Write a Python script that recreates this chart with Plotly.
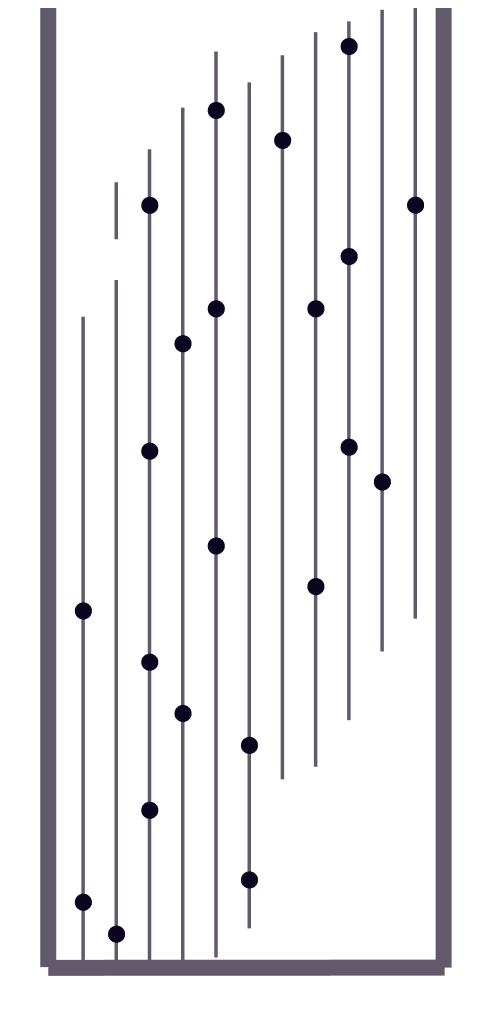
import plotly.graph_objects as go

# columns (categories) and dot values
col_x = [1, 1, 2, 3, 3, 3, 3, 4, 4, 5, 5, 5, 6, 6, 7, 8, 8, 9, 9, 9, 10, 11]
dot_y = [36.9, 6.8, 3.5, 78.8, 53.4, 31.6, 16.3, 64.5, 26.3, 88.6, 68.1, 43.6,
         23.0, 9.1, 85.5, 68.1, 39.4, 95.2, 73.5, 53.8, 50.2, 78.8]

# visible extent of each column's stem (low, high)
stem_col = [1, 2, 2, 3, 4, 5, 6, 7, 8, 9, 10, 11]
stem_low = [0, 0, 75.2, 0, 0, 1.0, 4.0, 19.4, 20.7, 25.5, 32.6, 36.0]
stem_high = [67.2, 71.0, 81.1, 84.5, 88.8, 94.6, 91.4, 94.2, 96.6, 97.7, 98.9, 99.8]

LINE = "#625a6b"
DOT = "#0c0520"

sx, sy, sz = [], [], []
for c, lo, hi in zip(stem_col, stem_low, stem_high):
    sx += [c, c, None]
    sy += [lo, hi, None]
    sz += [-0.9, -0.9, None]

fig = go.Figure()
fig.add_trace(go.Scatter3d(
    x=sx, y=sy, z=sz, mode="lines",
    line=dict(color=LINE, width=7), hoverinfo="skip",
))
fig.add_trace(go.Scatter3d(
    x=col_x, y=dot_y, z=[0.9] * len(col_x), mode="markers",
    marker=dict(size=10, color=DOT, line=dict(width=0)),
    hoverinfo="skip",
))

ax_common = dict(showticklabels=False, title="", showbackground=False,
                 zeroline=False, showspikes=False, showgrid=False, ticks="")
fig.update_layout(
    width=484, height=1019,
    margin=dict(l=0, r=0, t=0, b=0),
    paper_bgcolor="white",
    showlegend=False,
    scene=dict(
        domain=dict(x=[0, 1], y=[0, 1]),
        xaxis=dict(range=[-0.05, 11.85], showline=True, linecolor=LINE,
                   linewidth=32, **ax_common),
        yaxis=dict(range=[0, 100], showline=True, linecolor=LINE,
                   linewidth=32, mirror=True, **ax_common),
        zaxis=dict(range=[-1, 1], showline=False, **ax_common),
        aspectmode="manual",
        aspectratio=dict(x=0.776, y=1.904, z=0.02),
        camera=dict(eye=dict(x=0, y=0, z=1), up=dict(x=0, y=1, z=0),
                    center=dict(x=0.008, y=-0.067, z=0),
                    projection=dict(type="orthographic")),
    ),
)
fig.write_html("out.html")
